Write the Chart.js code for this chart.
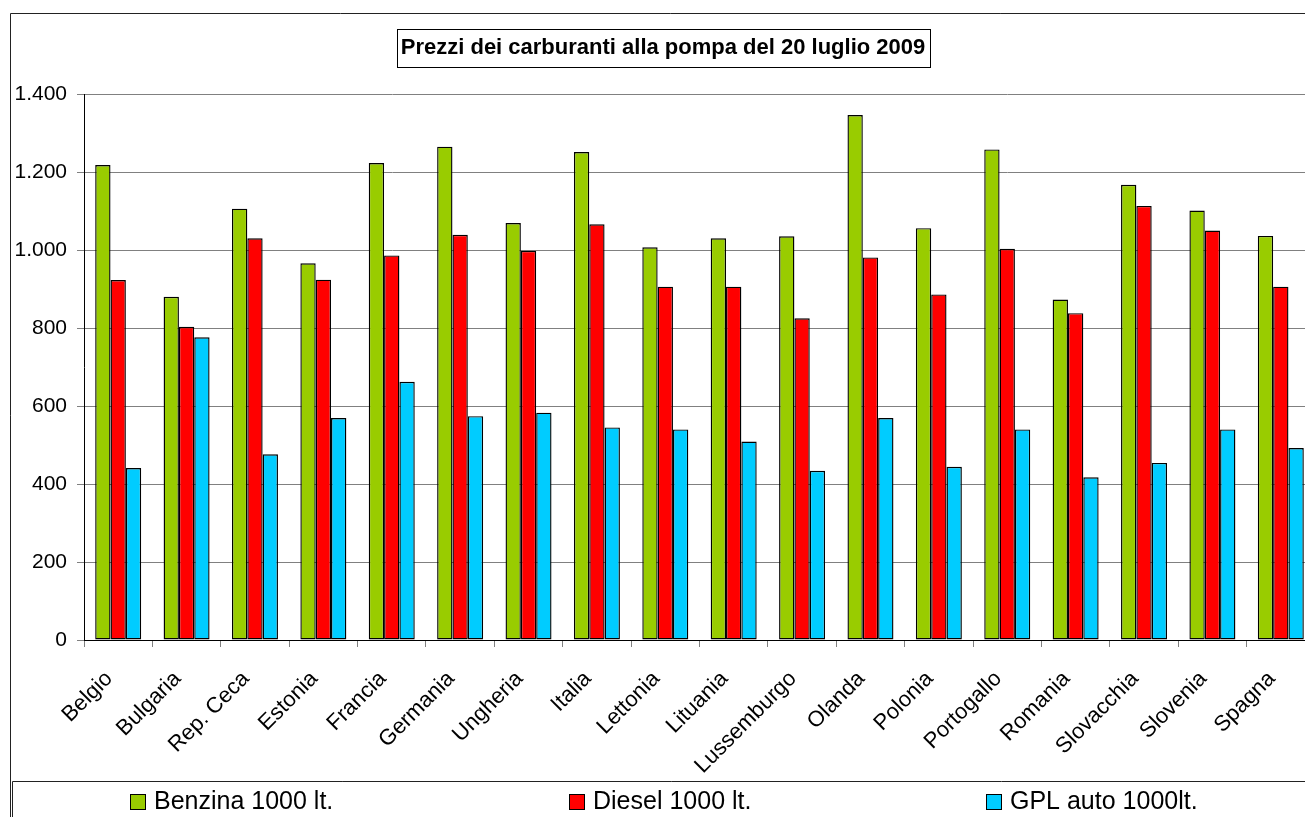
<!DOCTYPE html>
<html><head><meta charset="utf-8">
<script src="https://cdn.jsdelivr.net/npm/chart.js@4.4.0/dist/chart.umd.min.js"></script>
<style>
html,body{margin:0;padding:0;overflow:hidden;background:#fff;width:1305px;height:817px}
canvas{display:block}
</style></head>
<body><canvas id="c" width="1330" height="817"></canvas>
<script>
const categories = ['Belgio','Bulgaria','Rep. Ceca','Estonia','Francia','Germania','Ungheria','Italia','Lettonia','Lituania','Lussemburgo','Olanda','Polonia','Portogallo','Romania','Slovacchia','Slovenia','Spagna'];
const benzina = [1218, 880, 1106, 966, 1223, 1265, 1069, 1251, 1007, 1030, 1035, 1346, 1056, 1258, 873, 1167, 1101, 1036];
const diesel  = [923, 803, 1030, 924, 986, 1039, 998, 1066, 906, 906, 825, 981, 886, 1003, 838, 1113, 1050, 906];
const gpl     = [441, 776, 476, 569, 662, 574, 583, 545, 540, 509, 434, 569, 444, 540, 417, 454, 540, 492];
const seriesNames = ['Benzina 1000 lt.', 'Diesel 1000 lt.', 'GPL auto 1000lt.'];
const yTickLabels = ['0', '200', '400', '600', '800', '1.000', '1.200', '1.400'];
const titleText = 'Prezzi dei carburanti alla pompa del 20 luglio 2009';

const FONT = '"Liberation Sans", Arial, Helvetica, sans-serif';
const colors = ['#99CC00', '#FF0000', '#00CCFF'];
const legendX = [130, 569, 986];

const framePlugin = {
  id: 'frame',
  beforeDraw(chart) {
    const ctx = chart.ctx;
    ctx.save();
    ctx.fillStyle = '#fff';
    ctx.fillRect(0, 0, chart.width, chart.height);
    ctx.strokeStyle = '#222';
    ctx.lineWidth = 1;
    ctx.beginPath();
    ctx.moveTo(10.5, chart.height + 5);
    ctx.lineTo(10.5, 13.5);
    ctx.lineTo(chart.width + 5, 13.5);
    ctx.stroke();
    ctx.restore();
  },
  afterDraw(chart) {
    const ctx = chart.ctx;
    ctx.save();
    // title box
    const t = chart.titleBlock;
    const tf = chart.options.plugins.title.font;
    ctx.font = 'bold ' + tf.size + 'px ' + FONT;
    const tw = ctx.measureText(titleText).width;
    const cx = (t.left + t.right) / 2;
    const cy = t.top + chart.options.plugins.title.padding.top + tf.size * 1.2 / 2;
    ctx.strokeStyle = '#000';
    ctx.lineWidth = 1;
    ctx.strokeRect(Math.round(cx - tw / 2 - 4) + 0.5, Math.round(cy - 19) + 0.5, Math.round(tw + 8), 38);
    // legend box
    ctx.strokeStyle = '#222';
    ctx.beginPath();
    ctx.moveTo(12.5, chart.height + 5);
    ctx.lineTo(12.5, 781.5);
    ctx.lineTo(chart.width + 5, 781.5);
    ctx.stroke();
    // legend items
    ctx.font = '25px ' + FONT;
    ctx.textBaseline = 'alphabetic';
    ctx.textAlign = 'left';
    chart.data.datasets.forEach((ds, i) => {
      const x = legendX[i];
      ctx.fillStyle = ds.backgroundColor;
      ctx.fillRect(x, 794, 15, 15);
      ctx.strokeStyle = '#000';
      ctx.strokeRect(x + 0.5, 794.5, 15, 15);
      ctx.fillStyle = '#000';
      ctx.fillText(ds.label, x + 24, 809);
    });
    ctx.restore();
  }
};

const mk = (label, data, color) => ({
  label, data, backgroundColor: color, borderColor: '#000', borderWidth: 1.4,
  borderSkipped: false, categoryPercentage: 0.6725, barPercentage: 1.0
});

new Chart(document.getElementById('c'), {
  type: 'bar',
  data: {
    labels: categories,
    datasets: [
      mk(seriesNames[0], benzina, colors[0]),
      mk(seriesNames[1], diesel, colors[1]),
      mk(seriesNames[2], gpl, colors[2])
    ]
  },
  options: {
    responsive: false,
    animation: false,
    events: [],
    layout: { padding: { left: 11, right: 15, top: 0, bottom: 0 } },
    plugins: {
      legend: { display: false },
      tooltip: { enabled: false },
      title: {
        display: true,
        text: titleText,
        color: '#000',
        font: { family: FONT, size: 22, weight: 'bold', lineHeight: 1.2 },
        padding: { top: 34.8, bottom: 32.8 }
      }
    },
    scales: {
      x: {
        type: 'category',
        offset: true,
        grid: { offset: true, drawOnChartArea: false, drawTicks: true, tickLength: 7, color: '#808080' },
        border: { color: '#000', width: 1 },
        ticks: {
          autoSkip: false, maxRotation: 45, minRotation: 45,
          color: '#000', padding: 19, labelOffset: -9,
          font: { family: FONT, size: 22 }
        },
        afterFit(s) { s.height = 177; }
      },
      y: {
        min: 0, max: 1400,
        ticks: {
          stepSize: 200, color: '#000', padding: 10,
          font: { family: FONT, size: 21 },
          callback: (v, i) => yTickLabels[i]
        },
        grid: { color: '#808080', tickLength: 7, lineWidth: 1 },
        border: { color: '#000', width: 1 },
        afterFit(s) { s.width = 73; }
      }
    }
  },
  plugins: [framePlugin]
});
</script>
</body></html>
